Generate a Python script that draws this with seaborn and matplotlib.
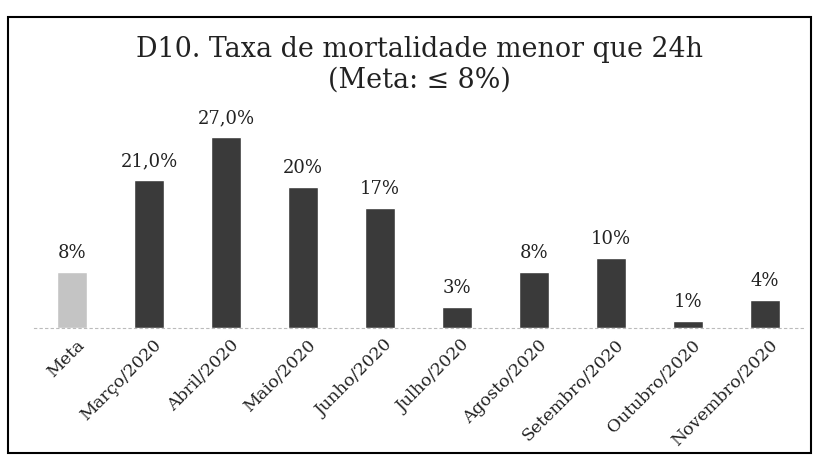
import seaborn as sns
from matplotlib import pyplot as plt
import matplotlib.patches as mpatches
import matplotlib.transforms as mtransforms

#--------------------------Data------------------------------------------------
months = ['Meta', 'Março/2020', 'Abril/2020', 'Maio/2020', 'Junho/2020', 'Julho/2020',
          'Agosto/2020', 'Setembro/2020', 'Outubro/2020', 'Novembro/2020']
rates = [8, 21, 27, 20, 17, 3, 8, 10, 1, 4]
value_labels = ['8%', '21,0%', '27,0%', '20%', '17%', '3%', '8%', '10%', '1%', '4%']
bar_colors = ['#c4c4c4'] + ['#3a3a3a'] * 9

#--------------------------Plot------------------------------------------------
sns.set_style('white')
plt.rcParams['font.family'] = ['DejaVu Serif']

fig = plt.figure(figsize=(8.19, 4.61), dpi=100)
ax = fig.add_axes([0.041, 0.288, 0.94, 0.46])

sns.barplot(x=months, y=rates, hue=months, palette=bar_colors, width=0.4,
            legend=False, ax=ax, saturation=1)

for i, lab in enumerate(value_labels):
    ax.text(i, rates[i] + 1.4, lab, ha='center', va='bottom', fontsize=13, color='#222222')

ax.set_ylim(0, 30)
ax.set_xlim(-0.5, 9.5)
ax.set_yticks([])
for s in ['top', 'right', 'left']:
    ax.spines[s].set_visible(False)
ax.spines['bottom'].set_color('#bbbbbb')
ax.spines['bottom'].set_linestyle((0, (2, 3)))
ax.set_xticks(range(len(months)))
ax.set_xticklabels(months, rotation=45, ha='right', rotation_mode='anchor',
                   fontsize=12.5, color='#222222')
ax.tick_params(axis='x', length=0, pad=6)
# nudge labels a little to the right
shift = mtransforms.ScaledTranslation(0.04, 0, fig.dpi_scale_trans)
for t in ax.get_xticklabels():
    t.set_transform(t.get_transform() + shift)

# two-line title
fig.text(0.512, 0.876, 'D10. Taxa de mortalidade menor que 24h',
         ha='center', va='baseline', fontsize=19.4, color='#222222')
fig.text(0.512, 0.809, '(Meta: ≤ 8%)',
         ha='center', va='baseline', fontsize=19.4, color='#222222')

# scanned page border
fig.add_artist(mpatches.Rectangle((0.01, 0.017), 0.98, 0.946, transform=fig.transFigure,
                                  fill=False, edgecolor='black', linewidth=1.5))

fig.savefig('out.png', dpi=100)
